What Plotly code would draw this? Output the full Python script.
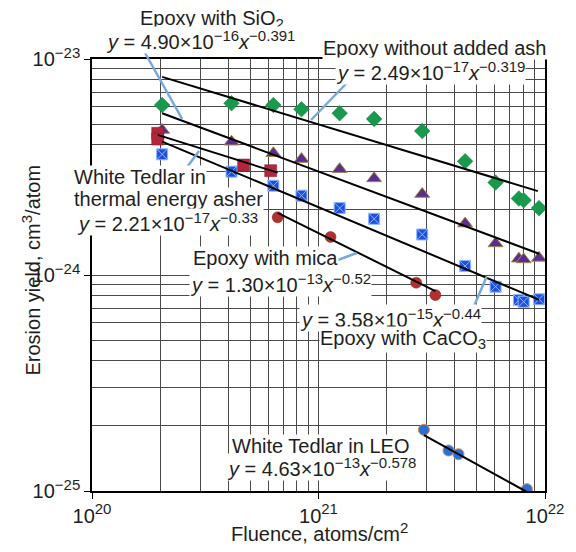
import numpy as np
import plotly.graph_objects as go

# ---------------- data ----------------
x_common = [2.04e20, 4.13e20, 6.32e20, 8.41e20, 1.24e21, 1.76e21,
            2.87e21, 4.44e21, 6.05e21, 7.67e21, 8.05e21, 9.41e21]
y_no_ash = [6.12e-24, 6.24e-24, 6.12e-24, 5.85e-24, 5.61e-24, 5.28e-24,
            4.64e-24, 3.36e-24, 2.68e-24, 2.26e-24, 2.22e-24, 2.04e-24]
y_sio2 = [4.69e-24, 4.14e-24, 3.66e-24, 3.44e-24, 3.09e-24, 2.80e-24,
          2.37e-24, 1.73e-24, 1.40e-24, 1.19e-24, 1.18e-24, 1.20e-24]
y_caco3 = [3.62e-24, 3.01e-24, 2.59e-24, 2.33e-24, 2.04e-24, 1.82e-24,
           1.54e-24, 1.10e-24, 8.83e-25, 7.66e-25, 7.52e-25, 7.72e-25]
x_thermal = [1.95e20, 1.95e20, 4.67e20, 6.15e20]
y_thermal = [4.53e-24, 4.26e-24, 3.23e-24, 3.04e-24]
x_mica = [6.60e20, 1.13e21, 2.70e21, 3.28e21]
y_mica = [1.85e-24, 1.50e-24, 9.21e-25, 8.08e-25]
x_leo = [2.92e21, 3.75e21, 4.15e21, 8.32e21]
y_leo = [1.92e-25, 1.54e-25, 1.48e-25, 1.02e-25]

# power-law fits y = a * x^b, drawn between x_start and x_end
fit_names = ["no_ash", "sio2", "caco3", "thermal", "mica", "leo"]
fit_a = [2.49e-17, 4.90e-16, 3.58e-15, 2.21e-17, 1.30e-13, 4.63e-13]
fit_b = [-0.319, -0.391, -0.44, -0.33, -0.52, -0.578]
fit_x_start = [2.04e20, 2.04e20, 2.04e20, 1.95e20, 6.60e20, 2.92e21]
fit_x_end = [9.3e21, 9.41e21, 9.41e21, 6.6e20, 3.28e21, 8.32e21]

x_major = [1e20, 1e21, 1e22]
x_major_exp = ["20", "21", "22"]
y_major = [1e-25, 1e-24, 1e-23]
y_major_exp = ["−25", "−24", "−23"]

# ---------------- figure ----------------
W, H = 576, 552
PL, PR, PT, PB = 92, 549, 59, 491


def px(x):
    return (x - PL) / (PR - PL)


def py(y):
    return (PB - y) / (PB - PT)


FONT = "Liberation Sans, Arial, sans-serif"
TXT = "#1e1e1e"
SUP = 15


def sup(t):
    return f"<sup><span style='font-size:{SUP}px'>{t}</span></sup>"


def sub(t):
    return f"<sub><span style='font-size:{SUP}px'>{t}</span></sub>"


fig = go.Figure()

fig.add_trace(go.Scatter(x=x_common, y=y_no_ash, mode="markers",
                         marker=dict(symbol="diamond", size=12, color="#179a4c",
                                     line=dict(width=0.5, color="#0f7a3a"))))
fig.add_trace(go.Scatter(x=x_common, y=y_sio2, mode="markers",
                         marker=dict(symbol="triangle-up", size=13, color="#5c2d8c",
                                     line=dict(width=1, color="#9a8a50"))))
fig.add_trace(go.Scatter(x=x_common, y=y_caco3, mode="markers",
                         marker=dict(symbol="square-x", size=11, color="#1d4fe0",
                                     line=dict(width=1, color="#8cb8ff"))))
fig.add_trace(go.Scatter(x=x_thermal, y=y_thermal, mode="markers",
                         marker=dict(symbol="square", size=12, color="#b3253c",
                                     line=dict(width=0.5, color="#8a1a2a"))))
fig.add_trace(go.Scatter(x=x_mica, y=y_mica, mode="markers",
                         marker=dict(symbol="circle", size=11, color="#b3302e",
                                     line=dict(width=0.5, color="#8a2020"))))
fig.add_trace(go.Scatter(x=x_leo, y=y_leo, mode="markers",
                         marker=dict(symbol="circle", size=11, color="#2a6fd2",
                                     line=dict(width=1, color="#d98a50"))))

for a, b, xs, xe in zip(fit_a, fit_b, fit_x_start, fit_x_end):
    xx = np.array([xs, xe])
    fig.add_trace(go.Scatter(x=xx, y=a * xx ** b, mode="lines",
                             line=dict(color="black", width=2)))


def label(text, cx, cy, anchor="center"):
    return dict(text=text, x=px(cx), y=py(cy), xref="paper", yref="paper",
                showarrow=False, xanchor=anchor, yanchor="middle",
                bgcolor="white", borderpad=0,
                font=dict(size=20, color=TXT, family=FONT))


def eq(a_txt, e_txt, b_txt):
    return (f"<i>y</i> = {a_txt}×10{sup('−' + e_txt)}"
            f"<i>x</i>{sup('−' + b_txt)}")


annotations = [
    label("Epoxy with SiO" + sub("2"), 213, 19),
    label(eq("4.90", "16", "0.391"), 201, 40),
    label("Epoxy without added ash", 438, 48),
    label(eq("2.49", "17", "0.319"), 433, 71),
    label("White Tedlar in", 73, 177, "left"),
    label("thermal energy asher", 73, 199, "left"),
    label(eq("2.21", "17", "0.33"), 76, 222, "left"),
    label("Epoxy with mica", 267, 258),
    label(eq("1.30", "13", "0.52"), 282, 283),
    label(eq("3.58", "15", "0.44"), 393, 318),
    label("Epoxy with CaCO" + sub("3"), 406, 339),
    label("White Tedlar in LEO", 323, 446),
    label(eq("4.63", "13", "0.578"), 324, 467),
    dict(text="Fluence, atoms/cm" + sup("2"), x=px(322), y=py(532),
         xref="paper", yref="paper", showarrow=False, xanchor="center",
         yanchor="middle", font=dict(size=20, color=TXT, family=FONT)),
    dict(text="Erosion yield, cm" + sup("3") + "/atom", x=px(30), y=py(270),
         xref="paper", yref="paper", showarrow=False, xanchor="center",
         yanchor="middle", textangle=-90,
         font=dict(size=20, color=TXT, family=FONT)),
]

leaders = [((145, 52), (183, 119)),
           ((349, 83), (313, 120)),
           ((200, 151), (188, 167)),
           ((340, 260), (359, 253)),
           ((490, 277), (477, 307))]
shapes = [dict(type="line", xref="paper", yref="paper",
               x0=px(p0[0]), y0=py(p0[1]), x1=px(p1[0]), y1=py(p1[1]),
               line=dict(color="#78a9dc", width=2.5))
          for p0, p1 in leaders]

x_minor = [k * 10.0 ** e for e in (20, 21) for k in range(2, 10)]
y_minor = [k * 10.0 ** e for e in (-25, -24) for k in range(2, 10)]

GRID = "#4a4a4a"
fig.update_layout(
    width=W, height=H,
    margin=dict(l=PL, r=W - PR, t=PT, b=H - PB),
    paper_bgcolor="white", plot_bgcolor="white",
    showlegend=False,
    annotations=annotations,
    shapes=shapes,
    xaxis=dict(type="log", range=[20, 22], tickmode="array",
               tickvals=x_major, ticktext=["10" + sup(e) for e in x_major_exp],
               ticks="outside", ticklen=6, tickcolor="black", tickwidth=1,
               showgrid=True, gridcolor=GRID, gridwidth=1,
               showline=True, linecolor="black", linewidth=1.5, mirror=True,
               zeroline=False,
               tickfont=dict(size=20, color=TXT, family=FONT),
               minor=dict(tickmode="array", tickvals=x_minor, showgrid=True,
                          gridcolor=GRID, gridwidth=1, ticks="")),
    yaxis=dict(type="log", range=[-25, -23], tickmode="array",
               tickvals=y_major, ticktext=["10" + sup(e) for e in y_major_exp],
               ticks="outside", ticklen=6, tickcolor="black", tickwidth=1,
               showgrid=True, gridcolor=GRID, gridwidth=1,
               showline=True, linecolor="black", linewidth=1.5, mirror=True,
               zeroline=False,
               tickfont=dict(size=20, color=TXT, family=FONT),
               minor=dict(tickmode="array", tickvals=y_minor, showgrid=True,
                          gridcolor=GRID, gridwidth=1, ticks="")),
)

fig.write_html("out.html",
               config={"displayModeBar": False},
               post_script="document.body.style.margin='0';"
                           "document.body.style.padding='0';")
